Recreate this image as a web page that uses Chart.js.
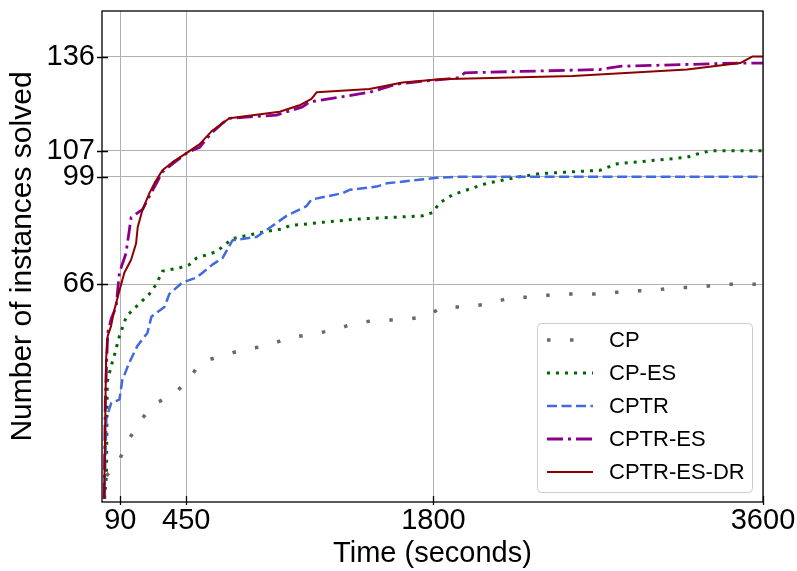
<!DOCTYPE html>
<html>
<head>
<meta charset="utf-8">
<script src="https://cdn.jsdelivr.net/npm/chart.js@4.4.0/dist/chart.umd.min.js"></script>
<style>
  html, body { margin: 0; padding: 0; background: #fff; }
</style>
</head>
<body>
<canvas id="solvedChart" width="797" height="571"></canvas>
<script>
// tick positions used by the figure
const xTicks = [90, 450, 1800, 3600];
const yTicks = [66, 99, 107, 136];

// series (time in seconds, instances solved)
const cpTime = [3, 14, 85, 134, 200, 271, 375, 457, 528, 648, 768, 894, 1009, 1134, 1260, 1375, 1501, 1632, 1758, 1851, 1982, 2108, 2228, 2354, 2480, 2611, 2736, 2862, 2993, 3119, 3245, 3377, 3502, 3600];
const cpSolved = [0, 7, 12, 18, 24, 29, 32, 36, 42, 44, 46, 47, 49.5, 50.5, 52, 54, 55, 55, 56, 59, 59, 60, 62, 62, 63, 63, 63, 64, 64, 65, 65, 66, 66, 66];

const cpEsTime = [3, 14, 19, 41, 57, 85, 123, 156, 194, 249, 287, 320, 413, 467, 506, 615, 703, 867, 976, 1014, 1194, 1380, 1741, 1796, 1834, 1905, 2091, 2271, 2380, 2709, 2802, 3185, 3240, 3311, 3600];
const cpEsSolved = [0, 7, 36, 41, 44, 50, 56, 58, 60, 63, 66, 70, 71, 72, 74, 76, 80, 82, 83, 84, 85, 86, 87, 88, 91, 93.5, 97, 99, 100, 101, 103, 105, 106, 107, 107];

const cptrTime = [3, 14, 41, 85, 101, 140, 183, 238, 260, 331, 358, 429, 506, 593, 648, 703, 834, 998, 1107, 1134, 1304, 1342, 1490, 1545, 1818, 1943, 3600];
const cptrSolved = [0, 25, 29.5, 30.5, 36.5, 42, 47, 51, 56, 59, 63, 66.5, 68, 72, 74, 79.5, 80.5, 87, 90, 92, 94, 95, 96, 97, 98.7, 99, 99];

const cptrEsTime = [2, 8, 21, 41, 67, 85, 121, 139, 149, 212, 249, 320, 375, 457, 522, 588, 648, 686, 943, 1085, 1123, 1451, 1599, 1724, 1943, 1971, 2709, 2818, 3475, 3600];
const cptrEsSolved = [0, 30, 51, 55.5, 59, 69.5, 75.5, 82.5, 86.5, 89, 93, 100.5, 103, 106.5, 108, 112.5, 115.5, 117, 118, 120.5, 122, 125, 127.5, 128.3, 129.5, 131, 132, 133, 134, 134];

const cptrEsDrTime = [2, 12, 21, 39, 57, 85, 112, 149, 176, 185, 212, 249, 276, 320, 375, 457, 522, 588, 648, 686, 960, 1069, 1134, 1162, 1451, 1632, 1834, 2561, 3185, 3475, 3541, 3600];
const cptrEsDrSolved = [0, 42.5, 50, 53, 58, 64, 69.5, 73.5, 78.5, 83.5, 89, 94, 97, 101, 103.5, 106.5, 109, 113, 115.5, 117, 119, 121, 123, 125, 126, 128, 129, 130, 132, 134, 136, 136];

const toPoints = (times, solved) => times.map((t, i) => ({ x: t, y: solved[i] }));

const series = [
  { label: 'CP', data: toPoints(cpTime, cpSolved), color: '#696969', width: 3.5, dash: [3.5, 19.5] },
  { label: 'CP-ES', data: toPoints(cpEsTime, cpEsSolved), color: '#006400', width: 3, dash: [3, 6] },
  { label: 'CPTR', data: toPoints(cptrTime, cptrSolved), color: '#4169e1', width: 2.5, dash: [10, 4.5] },
  { label: 'CPTR-ES', data: toPoints(cptrEsTime, cptrEsSolved), color: '#8b008b', width: 2.8, dash: [16, 5, 3, 5] },
  { label: 'CPTR-ES-DR', data: toPoints(cptrEsDrTime, cptrEsDrSolved), color: '#8b0000', width: 2, dash: [] },
];

const sansFont = "'Liberation Sans', Arial, sans-serif";

// black frame + in/out tick marks like matplotlib
const framePlugin = {
  id: 'frame',
  afterDraw(chart) {
    const { ctx, chartArea: a, scales: { x, y } } = chart;
    ctx.save();
    ctx.strokeStyle = '#000';
    ctx.lineWidth = 1.3;
    ctx.strokeRect(a.left, a.top, a.right - a.left, a.bottom - a.top);
    ctx.beginPath();
    yTicks.forEach((v) => {
      const py = Math.round(y.getPixelForValue(v)) + 0.5;
      ctx.moveTo(a.left - 5, py);
      ctx.lineTo(a.left + 6, py);
    });
    xTicks.forEach((v) => {
      const px = Math.round(x.getPixelForValue(v)) + 0.5;
      ctx.moveTo(px, a.bottom + 3);
      ctx.lineTo(px, a.bottom - 6);
    });
    ctx.stroke();
    ctx.restore();
  }
};

// legend box in lower right of the plot
const legendPlugin = {
  id: 'boxLegend',
  afterDraw(chart) {
    const { ctx, chartArea: a } = chart;
    const bw = 215, bh = 169;
    const bx = a.right - 11 - bw;
    const by = a.bottom - 10 - bh;
    ctx.save();
    ctx.fillStyle = 'rgba(255,255,255,0.85)';
    ctx.strokeStyle = '#cccccc';
    ctx.lineWidth = 1;
    ctx.beginPath();
    ctx.roundRect(bx + 0.5, by + 0.5, bw, bh, 4);
    ctx.fill();
    ctx.stroke();
    ctx.font = '22px ' + sansFont;
    ctx.textBaseline = 'middle';
    chart.data.datasets.forEach((ds, i) => {
      const cy = by + 17 + i * 33;
      ctx.strokeStyle = ds.borderColor;
      ctx.lineWidth = ds.borderWidth;
      ctx.setLineDash(ds.borderDash);
      ctx.lineCap = 'butt';
      ctx.beginPath();
      ctx.moveTo(bx + 10, cy);
      ctx.lineTo(bx + 56, cy);
      ctx.stroke();
      ctx.setLineDash([]);
      ctx.fillStyle = '#000';
      ctx.fillText(ds.label, bx + 72, cy + 1);
    });
    ctx.restore();
  }
};

new Chart('solvedChart', {
  type: 'line',
  data: {
    datasets: series.map((s, i) => ({
      label: s.label,
      data: s.data,
      borderColor: s.color,
      backgroundColor: s.color,
      borderWidth: s.width,
      borderDash: s.dash,
      borderCapStyle: 'butt',
      borderJoinStyle: 'round',
      pointRadius: 0,
      tension: 0,
      fill: false,
      order: series.length - i,
    })),
  },
  options: {
    responsive: false,
    animation: false,
    layout: { padding: { top: 11, right: 34, bottom: 0, left: 0 } },
    plugins: {
      legend: { display: false },
      tooltip: { enabled: false },
    },
    scales: {
      x: {
        type: 'linear',
        min: -10,
        max: 3600,
        afterBuildTicks: (scale) => { scale.ticks = xTicks.map((v) => ({ value: v })); },
        afterFit: (scale) => {
          scale.height = 69;
          scale.paddingLeft = 0;
          scale.paddingRight = 0;
        },
        grid: { color: '#b0b0b0', lineWidth: 1, drawTicks: false },
        border: { display: false },
        ticks: {
          autoSkip: false,
          maxRotation: 0,
          padding: 2,
          color: '#000',
          font: { family: sansFont, size: 29 },
          callback: (value) => String(value),
        },
        title: {
          display: true,
          text: 'Time (seconds)',
          color: '#000',
          font: { family: sansFont, size: 29 },
          padding: { top: 0, bottom: 0 },
        },
      },
      y: {
        min: -1,
        max: 150,
        afterBuildTicks: (scale) => { scale.ticks = yTicks.map((v) => ({ value: v })); },
        afterFit: (scale) => {
          scale.width = 102;
          scale.paddingTop = 0;
          scale.paddingBottom = 0;
        },
        grid: { color: '#b0b0b0', lineWidth: 1, drawTicks: false },
        border: { display: false },
        ticks: {
          autoSkip: false,
          padding: 7,
          color: '#000',
          font: { family: sansFont, size: 29 },
          callback: (value) => String(value),
        },
        title: {
          display: true,
          text: 'Number of instances solved',
          color: '#000',
          font: { family: sansFont, size: 30 },
          padding: { top: 5, bottom: 0 },
        },
      },
    },
  },
  plugins: [framePlugin, legendPlugin],
});
</script>
</body>
</html>
